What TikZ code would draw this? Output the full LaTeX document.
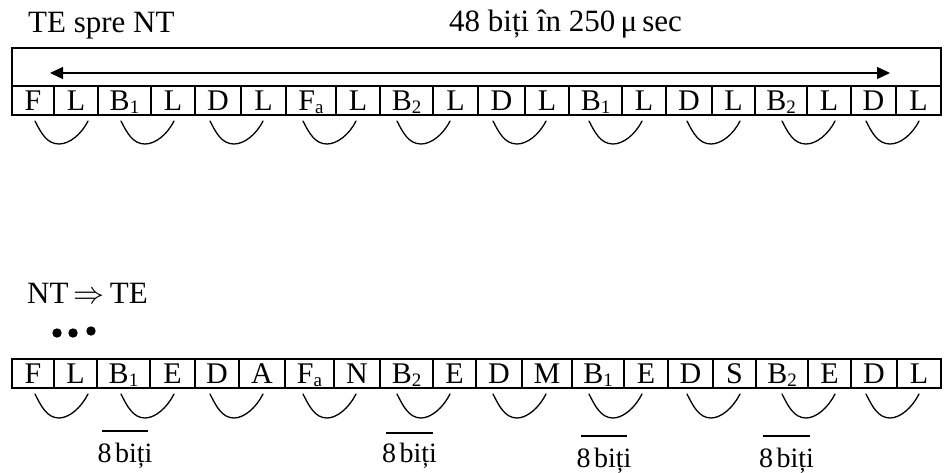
\RequirePackage{fix-cm}
\documentclass[tikz,border=0pt]{standalone}
\usepackage{fontspec}
\setmainfont{Liberation Serif}
\usetikzlibrary{arrows.meta}
\newcommand{\lowsub}[1]{\raisebox{-3pt}{\fontsize{19}{19}\selectfont #1}}
\begin{document}
\begin{tikzpicture}[x=1pt,y=-1pt,
  lw/.style={line width=1.3pt},
  cell/.style={draw, lw, inner sep=0pt, outer sep=0pt, minimum height=29pt,
    text height=20pt, text depth=0pt, font=\fontsize{30}{32}\selectfont},
  bigtext/.style={inner sep=0pt, font=\fontsize{31}{33}\selectfont},
  bracketline/.style={lw, line cap=round},
  >={Triangle[length=13pt,width=12pt]}]
\useasboundingbox (0,0) rectangle (944,473);

% titles
\node[bigtext, anchor=base west] (title1) at (28,33) {TE spre NT};
\node[bigtext, anchor=base west] (title2) at (449,32) {48 biți în 250\,μ\,sec};

% top frame
\node[draw, lw, inner sep=0pt, outer sep=0pt, minimum width=929pt, minimum height=38pt,
  anchor=north west] (frame) at (12,48) {};
\coordinate (al) at (50,73);
\coordinate (ar) at (890,73);
\draw[lw, <->] (al) -- (ar);

% top cells
\foreach \a/\b/\t [count=\i] in {12/54/F, 54/98/L, 98/151/{B\lowsub{1}}, 151/195/L,
  195/241/D, 241/286/L, 286/336/{F\lowsub{a}}, 336/380/L, 380/433/{B\lowsub{2}}, 433/478/L,
  478/525/D, 525/569/L, 569/622/{B\lowsub{1}}, 622/666/L, 666/712/D, 712/755/L,
  755/807/{B\lowsub{2}}, 807/851/L, 851/896/D, 896/941/L}
  \node[cell, minimum width={\b-\a}] (t\i) at ({(\a+\b)/2},100.5) {\t};

% top brackets
\foreach \x in {35,121,210,303,397,493,589,687,782,866}
  \draw[bracketline] (\x,121) .. controls +(6,12) and +(-12,0) .. ({\x+24},144)
    .. controls +(10,0) and +(-7,14) .. ({\x+53},121);

% bottom heading
\node[bigtext, anchor=base west] (dir) at (27,303) {NT\,$\Rightarrow$\,TE};
\fill (57,333) circle (4.7pt);
\fill (73,333) circle (4.7pt);
\fill (91,331) circle (4.7pt);

% bottom cells
\foreach \a/\b/\t [count=\i] in {12/54/F, 54/97/L, 97/150/{B\lowsub{1}}, 150/195/E,
  195/239/D, 239/285/A, 285/334/{F\lowsub{a}}, 334/380/N, 380/433/{B\lowsub{2}}, 433/476/E,
  476/522/D, 522/572/M, 572/624/{B\lowsub{1}}, 624/668/E, 668/713/D, 713/756/S,
  756/808/{B\lowsub{2}}, 808/851/E, 851/897/D, 897/941/L}
  \node[cell, minimum width={\b-\a}] (b\i) at ({(\a+\b)/2},373.5) {\t};

% bottom brackets
\foreach \x in {35,121,210,303,397,493,589,687,782,866}
  \draw[bracketline] (\x,394) .. controls +(6,12) and +(-12,0) .. ({\x+24},418)
    .. controls +(10,0) and +(-7,14) .. ({\x+53},394);

% 8 biti labels
\foreach \l/\r/\ly/\by [count=\i] in {102/148/431/462, 386/433/433/462, 581/627/436/467, 763/810/436/467}{
  \draw[lw] (\l,\ly) -- (\r,\ly);
  \node[inner sep=0pt, anchor=base, font=\fontsize{28}{30}\selectfont] (eb\i) at ({(\l+\r)/2},\by) {8\hspace{3.5pt}biți};
}
\end{tikzpicture}
\end{document}
